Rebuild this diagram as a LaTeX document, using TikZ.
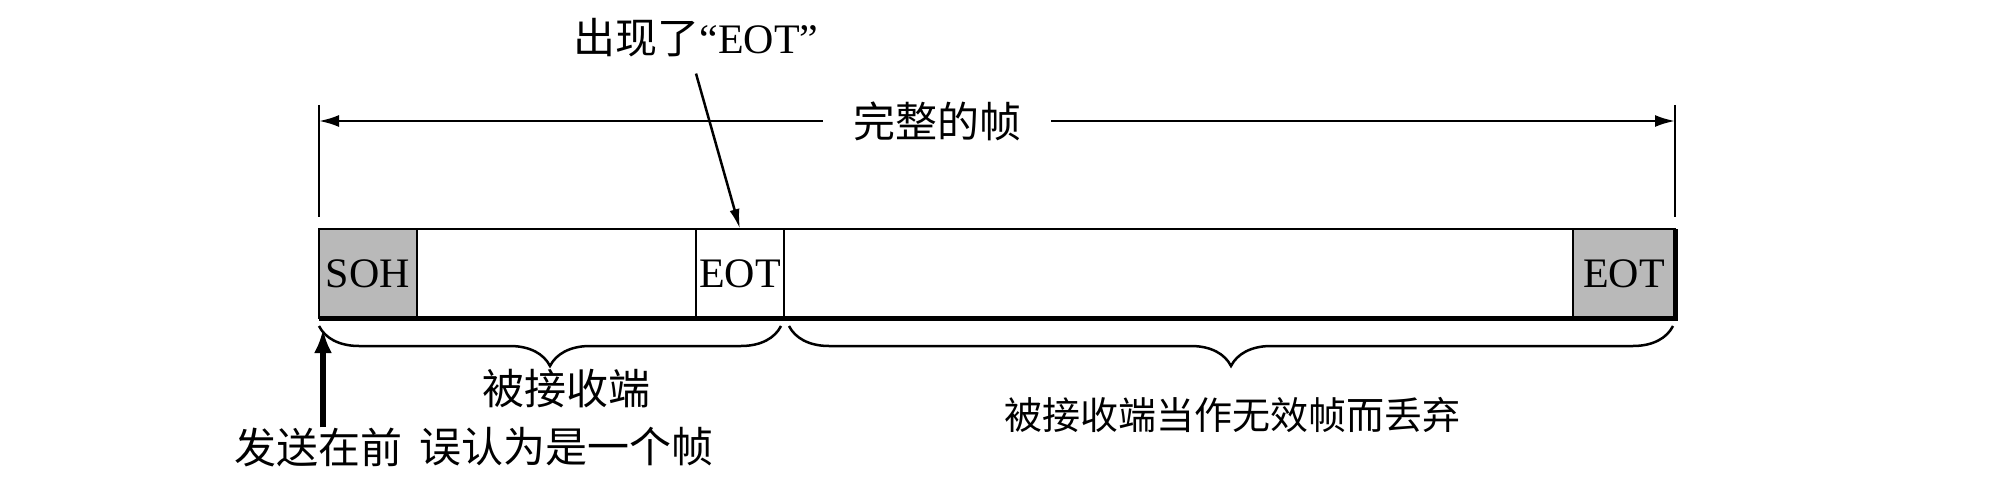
\documentclass[tikz,border=0pt]{standalone}
\usepackage{fontspec}
\setmainfont{Liberation Serif}
\newfontfamily\cjk{Noto Sans CJK SC}
\usetikzlibrary{arrows.meta,positioning,decorations.pathreplacing}
\tikzstyle{field}=[draw, line width=2pt, rectangle, inner sep=0pt, outer sep=0pt, minimum height=89pt, font=\fontsize{42}{50}\selectfont]
\tikzstyle{shadedField}=[field, fill=gray!55]
\tikzstyle{cnText}=[inner sep=0pt, font=\fontsize{42}{58}\selectfont\cjk, align=center]
\tikzstyle{dimLine}=[line width=2.5pt, {Latex[length=20pt,width=12pt]}-{Latex[length=20pt,width=12pt]}]
\tikzstyle{extLine}=[line width=2pt]
\tikzstyle{braceLine}=[line width=2.5pt, decorate, decoration={brace, mirror, amplitude=40pt}]
\tikzstyle{pointerArrow}=[line width=2.5pt, -{Latex[length=20pt,width=10pt]}]
\tikzstyle{sendArrow}=[line width=6pt, -{Latex[length=24pt,width=18pt]}]

\begin{document}
\begin{tikzpicture}[x=1pt, y=1pt]
    \useasboundingbox (0,0) rectangle (2002,480);

    % frame fields
    \node[shadedField, minimum width=98pt, anchor=west] (soh) at (319,206.5) {SOH};
    \node[field, minimum width=279pt, right=0pt of soh] (data1) {};
    \node[field, minimum width=88pt, right=0pt of data1] (eot1) {EOT};
    \node[field, minimum width=789pt, right=0pt of eot1] (data2) {};
    \node[shadedField, minimum width=102pt, right=0pt of data2] (eot2) {EOT};
    \draw[line width=5pt] (soh.south west) -- (eot2.south east) -- (eot2.north east);

    % whole frame dimension
    \coordinate (extLtop) at (319,375);
    \coordinate (extLbot) at (319,263);
    \coordinate (extRtop) at (1675,375);
    \coordinate (extRbot) at (1675,263);
    \draw[extLine] (extLtop) -- (extLbot);
    \draw[extLine] (extRtop) -- (extRbot);
    \coordinate (dimL) at (319,359);
    \coordinate (dimR) at (1675,359);
    \draw[dimLine] (dimL) -- (dimR);
    \node[cnText, fill=white, inner xsep=30pt, inner ysep=4pt] (whole) at (937,359) {完整的帧};

    % false EOT note
    \node[inner sep=0pt, font=\fontsize{42}{50}\selectfont] (eotNote) at (696,442) {{\cjk 出现了}“EOT”};
    \draw[pointerArrow] ([yshift=-16pt]eotNote.south) -- (eot1.north);

    % braces
    \draw[braceLine] ([yshift=-8pt]soh.south west) -- ([xshift=-3pt,yshift=-8pt]eot1.south east);
    \draw[braceLine] ([xshift=5pt,yshift=-8pt]eot1.south east) -- ([xshift=-2pt,yshift=-8pt]eot2.south east);
    \node[cnText] (leftNote) at (566,62) {被接收端\\误认为是一个帧};
    \node[cnText, font=\fontsize{38}{50}\selectfont\cjk] (rightNote) at (1232,65) {被接收端当作无效帧而丢弃};

    % sending direction
    \node[cnText] (sendNote) at (318,33) {发送在前};
    \coordinate (sendTip) at (323,151);
    \draw[sendArrow] (sendNote.north -| sendTip) -- (sendTip);
\end{tikzpicture}
\end{document}
